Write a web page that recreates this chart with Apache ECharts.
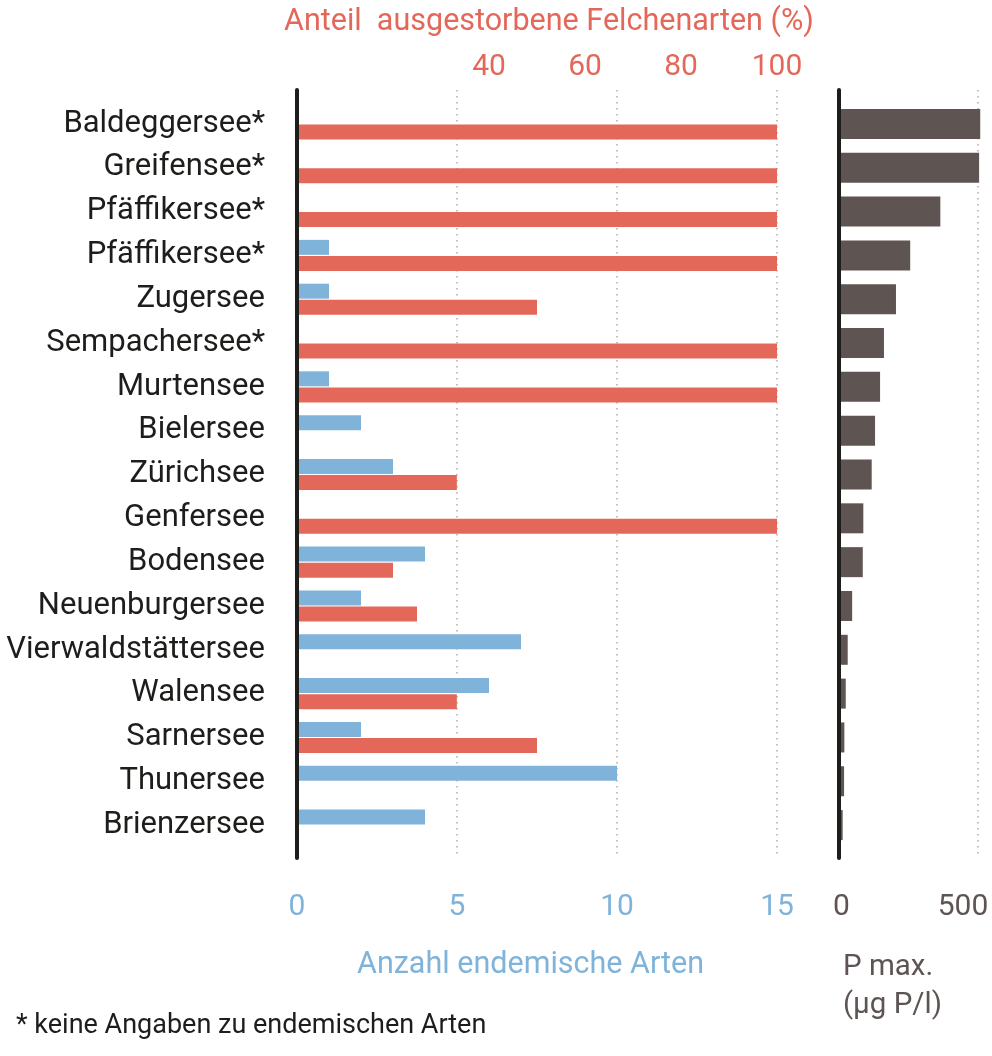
<!DOCTYPE html>
<html>
<head>
<meta charset="utf-8">
<script src="https://cdn.jsdelivr.net/npm/echarts@6/dist/echarts.min.js"></script>
<style>
  html, body { margin: 0; padding: 0; background: #fff; }
  #main { width: 992px; height: 1056px; }
</style>
</head>
<body>
<div id="main"></div>
<script>
// Seen
var lakes = ['Baldeggersee*', 'Greifensee*', 'Pfäffikersee*', 'Pfäffikersee*', 'Zugersee',
  'Sempachersee*', 'Murtensee', 'Bielersee', 'Zürichsee', 'Genfersee', 'Bodensee',
  'Neuenburgersee', 'Vierwaldstättersee', 'Walensee', 'Sarnersee', 'Thunersee', 'Brienzersee'];
// Anzahl endemische Arten
var endemic = [null, null, null, 1, 1, null, 1, 2, 3, null, 4, 2, 7, 6, 2, 10, 4];
// Anteil ausgestorbene Felchenarten (%)
var extinct = [100, 100, 100, 100, 50, 100, 100, null, 33.3, 100, 20, 25, null, 33.3, 50, null, null];
// P max. (µg P/l)
var pmax = [508, 504, 365, 257, 206, 163, 149, 131, 119, 89, 87, 49, 33, 26, 21, 20, 15];

var countTicks = [0, 5, 10, 15];
var percentTicks = [40, 60, 80, 100];
var pTicks = [0, 500];

var FONT = 'Roboto';
var RED = '#e3685a';
var BLUE = '#80b3d9';
var GREY = '#5e5553';
var INK = '#1d1d1b';

var dotted = { show: true, lineStyle: { color: '#b3aaa6', width: 1.5, type: [1.5, 4.5] } };

var myChart = echarts.init(document.getElementById('main'));

myChart.setOption({
  animation: false,
  title: [
    { text: 'Anteil  ausgestorbene Felchenarten (%)', left: 279, top: 2,
      textStyle: { color: RED, fontSize: 30.5, fontWeight: 'normal', fontFamily: FONT } },
    { text: 'Anzahl endemische Arten', left: 352, top: 945,
      textStyle: { color: BLUE, fontSize: 30.5, fontWeight: 'normal', fontFamily: FONT } },
    { text: 'P max.\n(µg P/l)', left: 838, top: 944,
      textStyle: { color: GREY, fontSize: 29.5, fontWeight: 'normal', fontFamily: FONT, lineHeight: 38 } },
    { text: '* keine Angaben zu endemischen Arten', left: 11, top: 1008,
      textStyle: { color: INK, fontSize: 27, fontWeight: 'normal', fontFamily: FONT } }
  ],
  grid: [
    // Rahmen links / Balken links / Rahmen rechts / Balken rechts
    { left: 297, width: 480, top: 90, height: 768 },
    { left: 297, width: 480, top: 102, height: 745 },
    { left: 838.5, width: 139.5, top: 90, height: 768 },
    { left: 838.5, width: 139.5, top: 102, height: 745 }
  ],
  xAxis: [
    { gridIndex: 0, type: 'value', position: 'bottom', min: 0, max: 15, interval: 5,
      axisLine: { show: false }, axisTick: { show: false }, splitLine: dotted,
      axisLabel: { color: BLUE, fontSize: 30, fontFamily: FONT, margin: 34,
        formatter: function (v) { return countTicks.indexOf(v) >= 0 ? String(v) : ''; } } },
    { gridIndex: 0, type: 'value', position: 'top', min: 0, max: 100, interval: 20,
      axisLine: { show: false }, axisTick: { show: false }, splitLine: { show: false },
      axisLabel: { color: RED, fontSize: 30, fontFamily: FONT, margin: 8,
        formatter: function (v) { return percentTicks.indexOf(v) >= 0 ? String(v) : ''; } } },
    { gridIndex: 1, type: 'value', min: 0, max: 15, show: false },
    { gridIndex: 1, type: 'value', min: 0, max: 100, show: false },
    { gridIndex: 2, type: 'value', position: 'bottom', min: 0, max: 500, interval: 500,
      axisLine: { show: false }, axisTick: { show: false }, splitLine: dotted,
      axisLabel: { color: GREY, fontSize: 30, fontFamily: FONT, margin: 34,
        formatter: function (v) {
          if (pTicks.indexOf(v) < 0) return '';
          return v === 500 ? '{r|' + v + '}' : '{l|' + v + '}';
        },
        rich: {
          r: { color: GREY, fontSize: 30, fontFamily: FONT, padding: [0, 30, 0, 0] },
          l: { color: GREY, fontSize: 30, fontFamily: FONT, padding: [0, 0, 0, 6] }
        } } },
    { gridIndex: 3, type: 'value', min: 0, max: 500, show: false }
  ],
  yAxis: [
    { gridIndex: 0, type: 'category', data: lakes, inverse: true, z: 10,
      axisLine: { show: true, lineStyle: { color: INK, width: 4 } },
      axisTick: { show: false }, axisLabel: { show: false }, splitLine: { show: false } },
    { gridIndex: 1, type: 'category', data: lakes, inverse: true,
      axisLine: { show: false }, axisTick: { show: false },
      axisLabel: { color: INK, fontSize: 31, fontFamily: FONT, margin: 32, interval: 0 } },
    { gridIndex: 2, type: 'category', data: lakes, inverse: true, z: 10,
      axisLine: { show: true, lineStyle: { color: INK, width: 4 } },
      axisTick: { show: false }, axisLabel: { show: false }, splitLine: { show: false } },
    { gridIndex: 3, type: 'category', data: lakes, inverse: true, show: false }
  ],
  series: [
    { name: 'Anzahl endemische Arten', type: 'bar', xAxisIndex: 2, yAxisIndex: 1,
      data: endemic, barWidth: 15, barGap: '7%', itemStyle: { color: BLUE } },
    { name: 'Anteil ausgestorbene Felchenarten (%)', type: 'bar', xAxisIndex: 3, yAxisIndex: 1,
      data: extinct, barWidth: 15, barGap: '7%', itemStyle: { color: RED } },
    { name: 'P max.', type: 'bar', xAxisIndex: 5, yAxisIndex: 3,
      data: pmax, barWidth: 30, clip: false, itemStyle: { color: GREY } }
  ]
});
</script>
</body>
</html>
